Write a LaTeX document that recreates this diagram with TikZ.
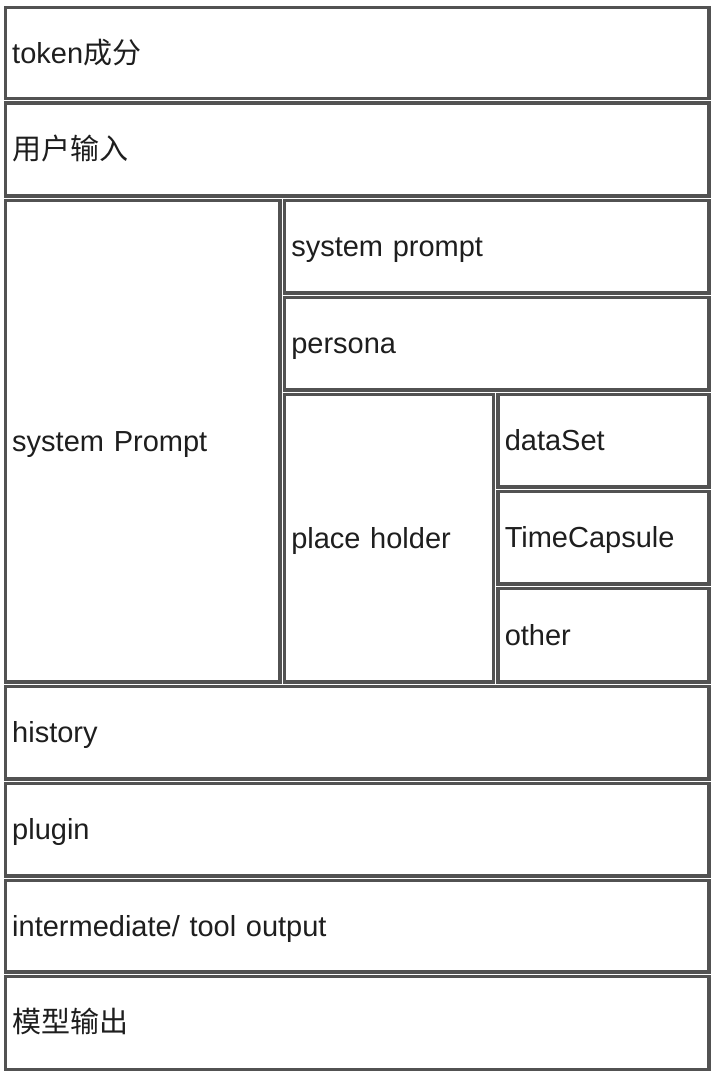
\documentclass[tikz,border=0pt]{standalone}
\usepackage{fontspec}
\setmainfont{Liberation Sans}
\newfontfamily\cjk{Noto Sans CJK SC}
\definecolor{bordergray}{HTML}{525252}
\definecolor{txt}{HTML}{1E1E1E}
\newcommand\cellnode[6]{%
  \pgfmathsetmacro\cellw{#4-3.5}%
  \pgfmathsetmacro\cellh{#5-3.5}%
  \pgfmathsetmacro\celltw{#4-17.5}%
  \node[cell, minimum width=\cellw pt, minimum height=\cellh pt, text width=\celltw pt] (#1) at (#2,#3) {#6};}
\begin{document}
\begin{tikzpicture}[x=1pt,y=-1pt,
  cell/.style={draw=bordergray, line width=3.5pt, rectangle, align=left,
    inner xsep=7pt, inner ysep=0pt, text=txt, text height=24pt, text depth=4pt,
    font=\fontsize{29}{33}\selectfont}]
\useasboundingbox[fill=white] (0,0) rectangle (718,1078);
\cellnode{token}{357}{53.25}{707}{94.5}{token{\cjk 成分}}
\cellnode{user}{357}{149.5}{707}{96}{{\cjk 用户输入}}
\cellnode{sysP}{142.5}{441}{278}{485}{system Prompt}
\cellnode{sysp}{496.5}{246.5}{428}{96}{system prompt}
\cellnode{persona}{496.5}{343.5}{428}{96}{persona}
\cellnode{place}{388.75}{538}{212.5}{291}{place holder}
\cellnode{dataset}{603.25}{440.5}{214.5}{96}{dataSet}
\cellnode{timecap}{603.25}{537.5}{214.5}{96}{TimeCapsule}
\cellnode{other}{603.25}{635}{214.5}{97}{other}
\cellnode{history}{357}{732.5}{707}{96}{history}
\cellnode{plugin}{357}{829.5}{707}{96}{plugin}
\cellnode{inter}{357}{926}{707}{95}{intermediate/ tool output}
\cellnode{model}{357}{1022.75}{707}{96.5}{{\cjk 模型输出}}
\end{tikzpicture}
\end{document}
